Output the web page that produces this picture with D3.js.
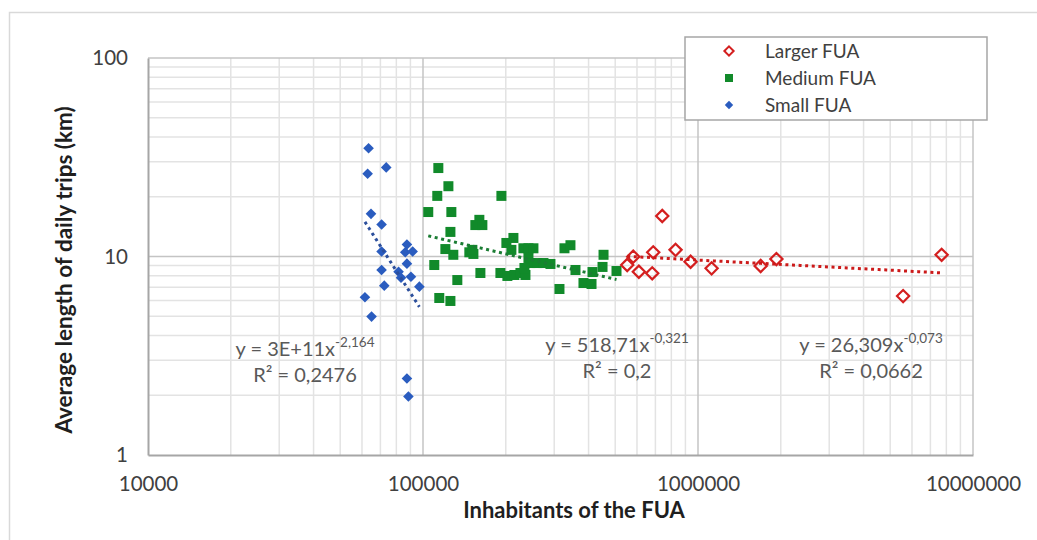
<!DOCTYPE html>
<html>
<head>
<meta charset="utf-8">
<script src="https://cdn.jsdelivr.net/npm/d3@7"></script>
<style>
  body { margin: 0; background: #fff; }
  svg { display: block; font-family: Lato, 'Open Sans', sans-serif; }
</style>
</head>
<body>
<svg id="chart" width="1037" height="540"></svg>
<script>
// inhabitants, average trip length (km)
const smallFua = [
  [63400, 35.1], [62900, 26.1], [73500, 28.1], [64700, 16.4], [70700, 14.5],
  [70700, 10.6], [87400, 11.5], [86200, 10.5], [91700, 10.6], [87400, 9.2],
  [70700, 8.55], [81500, 8.38], [83200, 7.82], [90400, 7.91], [72300, 7.13],
  [97000, 7.05], [61500, 6.23], [65000, 4.98], [87400, 2.43], [88500, 1.97]
];
const mediumFua = [
  [113700, 27.9], [123700, 22.6], [112700, 20.2], [192800, 20.2], [104500, 16.75],
  [126800, 16.75], [160300, 15.3], [155000, 14.4], [164400, 14.4], [125800, 13.3],
  [120600, 10.9], [128900, 10.2], [147400, 10.5], [152500, 10.3], [151200, 10.8],
  [109900, 9.06], [161700, 8.26], [133300, 7.61], [114600, 6.18], [125800, 5.97],
  [213200, 12.4], [201000, 11.7], [209600, 10.8], [231800, 11.0], [241800, 11.0],
  [252100, 11.0], [191200, 8.26], [202700, 7.98], [215000, 8.07], [226100, 8.26],
  [235800, 8.07], [241800, 9.83], [245800, 9.27], [260700, 9.27], [274200, 9.27],
  [290700, 9.17], [326900, 11.0], [343700, 11.4], [453400, 10.2], [449600, 8.86],
  [505400, 8.45], [358500, 8.55], [413400, 8.35], [313500, 6.86], [383300, 7.35],
  [410000, 7.27], [233800, 8.75]
];
const largerFua = [
  [552800, 9.06], [581400, 9.98], [609400, 8.38], [681600, 8.23], [687400, 10.5],
  [741300, 16.0], [828700, 10.8], [939800, 9.41], [1120700, 8.72], [1690000, 8.96],
  [1928000, 9.71], [5570000, 6.32], [7690000, 10.2]
];

// power trend lines y = a * x^b (coefficient as shown, blue one slightly less rounded)
const trendCoef = { small: [3.45e11, -2.164], medium: [518.71, -0.321], larger: [26.309, -0.073] };
const trendLabels = {
  small: ['y = 3E+11x', '-2,164', 'R² = 0,2476'],
  medium: ['y = 518,71x', '-0,321', 'R² = 0,2'],
  larger: ['y = 26,309x', '-0,073', 'R² = 0,0662']
};

const xTicks = [10000, 100000, 1000000, 10000000];
const yTicks = [1, 10, 100];
const legendNames = ['Larger FUA', 'Medium FUA', 'Small FUA'];

const svg = d3.select('#chart');
const plot = { left: 148, right: 973, top: 58, bottom: 455 };

const x = d3.scaleLog().domain([10000, 10000000]).range([plot.left, plot.right]);
const y = d3.scaleLog().domain([1, 100]).range([plot.bottom, plot.top]);

const colors = { small: '#2a5cbf', medium: '#118a2a', larger: '#d41f1f' };
const trendColors = { small: '#2c4f9c', medium: '#1b7d34', larger: '#cc1a1a' };

// outer frame
svg.append('rect')
  .attr('x', 9.5).attr('y', 12.5)
  .attr('width', 1040).attr('height', 540)
  .attr('fill', 'none').attr('stroke', '#d9d9d9').attr('stroke-width', 1.5);

// grid
const minorX = [];
for (let e = 4; e < 7; e++) for (let m = 2; m <= 9; m++) minorX.push(m * Math.pow(10, e));
const minorY = [];
for (let e = 0; e < 2; e++) for (let m = 2; m <= 9; m++) minorY.push(m * Math.pow(10, e));

const grid = svg.append('g').attr('class', 'grid');
grid.selectAll('line.mx').data(minorX).enter().append('line')
  .attr('x1', d => x(d)).attr('x2', d => x(d))
  .attr('y1', plot.top).attr('y2', plot.bottom)
  .attr('stroke', '#e3e3e3').attr('stroke-width', 1.5);
grid.selectAll('line.my').data(minorY).enter().append('line')
  .attr('y1', d => y(d)).attr('y2', d => y(d))
  .attr('x1', plot.left).attr('x2', plot.right)
  .attr('stroke', '#e3e3e3').attr('stroke-width', 1.5);
grid.selectAll('line.Mx').data(xTicks.slice(1)).enter().append('line')
  .attr('x1', d => x(d)).attr('x2', d => x(d))
  .attr('y1', plot.top).attr('y2', plot.bottom)
  .attr('stroke', '#c4c4c4').attr('stroke-width', 1.5);
grid.selectAll('line.My').data(yTicks.slice(1)).enter().append('line')
  .attr('y1', d => y(d)).attr('y2', d => y(d))
  .attr('x1', plot.left).attr('x2', plot.right)
  .attr('stroke', '#c4c4c4').attr('stroke-width', 1.5);

// axes
const xAxis = svg.append('g')
  .attr('transform', `translate(0,${plot.bottom})`)
  .call(d3.axisBottom(x).tickValues(xTicks).tickFormat(d3.format('d')).tickSize(0).tickPadding(21));
const yAxis = svg.append('g')
  .attr('transform', `translate(${plot.left},0)`)
  .call(d3.axisLeft(y).tickValues(yTicks).tickFormat(d3.format('d')).tickSize(0).tickPadding(20));
[xAxis, yAxis].forEach(a => {
  a.select('.domain').attr('stroke', '#a6a6a6').attr('stroke-width', 2);
  a.selectAll('text').attr('fill', '#404040').style('font-size', '20.5px').style('font-family', 'Lato, sans-serif');
});

// trend lines
const trend = (data, key) => {
  const [a, b] = trendCoef[key];
  const ext = d3.extent(data, d => d[0]);
  const xs = d3.range(0, 41).map(i => ext[0] * Math.pow(ext[1] / ext[0], i / 40));
  svg.append('path')
    .datum(xs)
    .attr('d', d3.line().x(d => x(d)).y(d => y(a * Math.pow(d, b))))
    .attr('fill', 'none')
    .attr('stroke', trendColors[key])
    .attr('stroke-width', 3)
    .attr('stroke-dasharray', '3,3.6');
};

// markers
const diamond = d3.symbol().type(d3.symbolDiamond2);
svg.append('g').selectAll('path').data(smallFua).enter().append('path')
  .attr('transform', d => `translate(${x(d[0])},${y(d[1])})`)
  .attr('d', diamond.size(72)())
  .attr('fill', colors.small);
trend(smallFua, 'small');

svg.append('g').selectAll('rect').data(mediumFua).enter().append('rect')
  .attr('x', d => x(d[0]) - 5).attr('y', d => y(d[1]) - 5)
  .attr('width', 10).attr('height', 10)
  .attr('fill', colors.medium);
trend(mediumFua, 'medium');

svg.append('g').selectAll('path').data(largerFua).enter().append('path')
  .attr('transform', d => `translate(${x(d[0])},${y(d[1])})`)
  .attr('d', diamond.size(95)())
  .attr('fill', 'none').attr('stroke', colors.larger).attr('stroke-width', 2.2);
trend(largerFua, 'larger');

// trend equations
const labelPos = { small: [305, 356], medium: [617, 352], larger: [871, 352] };
Object.keys(trendLabels).forEach(k => {
  const [eq, exp, r2] = trendLabels[k];
  const [cx, cy] = labelPos[k];
  const t = svg.append('text')
    .attr('x', cx).attr('y', cy)
    .attr('text-anchor', 'middle')
    .attr('fill', '#595959')
    .style('font-size', '20px');
  t.append('tspan').text(eq);
  t.append('tspan').attr('dy', -9).style('font-size', '13.5px').text(exp);
  svg.append('text')
    .attr('x', cx).attr('y', cy + 26)
    .attr('text-anchor', 'middle')
    .attr('fill', '#595959')
    .style('font-size', '20px')
    .text(r2);
});

// axis titles
svg.append('text')
  .attr('x', 574).attr('y', 518)
  .attr('text-anchor', 'middle')
  .attr('fill', '#1f1f1f')
  .style('font-size', '22px').style('font-weight', 'bold')
  .text('Inhabitants of the FUA');
svg.append('text')
  .attr('transform', 'translate(72,270) rotate(-90)')
  .attr('text-anchor', 'middle')
  .attr('fill', '#1f1f1f')
  .style('font-size', '22.5px').style('font-weight', 'bold')
  .text('Average length of daily trips (km)');

// legend
const legend = svg.append('g').attr('transform', 'translate(685,37)');
legend.append('rect')
  .attr('width', 302).attr('height', 83)
  .attr('fill', '#fff').attr('stroke', '#a6a6a6').attr('stroke-width', 1.5);
const rows = legend.selectAll('g').data(legendNames).enter().append('g')
  .attr('transform', (d, i) => `translate(44,${14 + i * 27})`);
rows.each(function(d, i) {
  const g = d3.select(this);
  if (i === 0) {
    g.append('path').attr('d', diamond.size(55)())
      .attr('fill', 'none').attr('stroke', colors.larger).attr('stroke-width', 2);
  } else if (i === 1) {
    g.append('rect').attr('x', -4).attr('y', -4).attr('width', 8).attr('height', 8)
      .attr('fill', colors.medium);
  } else {
    g.append('path').attr('d', diamond.size(45)()).attr('fill', colors.small);
  }
  g.append('text').attr('x', 36).attr('dy', '0.35em')
    .attr('fill', '#404040').style('font-size', '19px').text(d);
});
</script>
</body>
</html>
